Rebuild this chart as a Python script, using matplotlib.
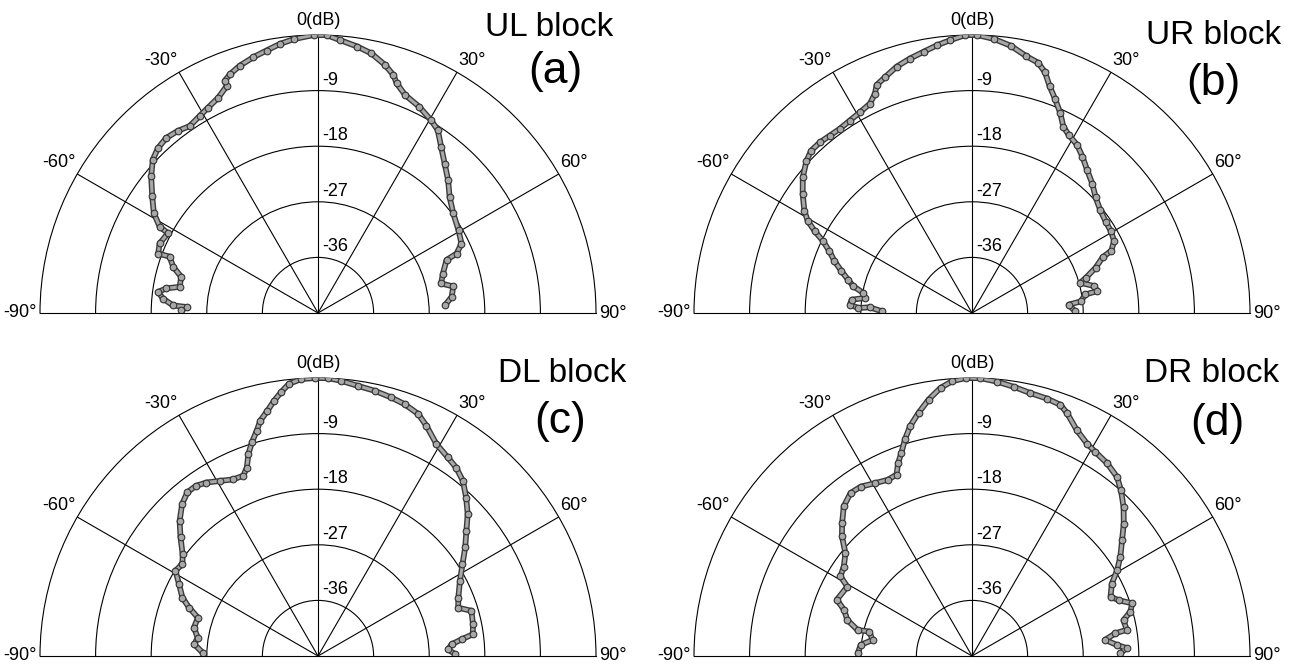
import numpy as np
import matplotlib.pyplot as plt

plt.rcParams['font.family'] = ['Liberation Sans', 'DejaVu Sans']

# ---- measured radiation patterns, angle (deg) vs level (dB), traced left -> right ----
ul_ang = [-88.9, -87.4, -87.0, -84.7, -82.5, -80.8, -79.3, -75.2, -72.3, -69.2,
          -69.6, -66.3, -62.0, -61.4, -58.7, -54.9, -50.7, -47.1, -44.1, -40.9,
          -37.6, -34.5, -31.0, -28.2, -24.9, -21.9, -21.9, -20.2, -17.5, -14.2,
          -11.1, -8.0, -5.1, -0.9,
          1.8, 4.7, 8.4, 11.6, 15.1, 17.6, 18.9, 21.8, 26.1, 30.3,
          33.2, 36.5, 40.3, 44.4, 48.6, 53.6, 59.5, 64.2, 66.8, 67.6,
          72.5, 76.5, 78.9, 83.1, 86.5]
ul_db = [-22.9, -23.7, -21.5, -19.8, -18.9, -20.1, -22.2, -22.1, -20.4, -19.3,
         -17.4, -17.0, -17.5, -15.8, -13.9, -12.2, -10.1, -8.5, -7.8, -7.5,
         -7.8, -8.3, -7.8, -7.3, -6.6, -5.4, -4.5, -3.8, -3.0, -2.3,
         -1.7, -1.0, -0.5, 0,
         0, -0.7, -1.4, -2.1, -3.4, -4.6, -5.7, -7.0, -7.8, -8.8,
         -9.6, -11.5, -13.3, -14.9, -16.6, -17.8, -18.6, -19.2, -20.6, -22.5,
         -23.8, -24.5, -22.7, -23.2, -24.4]

ur_ang = [-88.9, -86.8, -87.5, -86.1, -83.7, -82.0, -79.5, -77.3, -74.9, -72.2,
          -69.3, -66.5, -64.2, -62.5, -60.7, -58.6, -54.9, -51.3, -47.4, -44.7,
          -41.7, -38.7, -35.7, -32.4, -29.2, -26.0, -23.9, -22.7, -20.2, -17.0,
          -13.7, -10.5, -7.5, -4.6, -1.4,
          1.1, 4.6, 8.3, 11.9, 14.8, 16.9, 18.9, 21.3, 23.8, 26.1,
          28.5, 32.0, 35.2, 38.9, 42.9, 46.9, 51.4, 55.9, 59.4, 63.1,
          65.9, 66.9, 69.9, 72.8, 74.4, 77.5, 80.1, 80.7, 83.9, 85.1, 89.1]
ur_db = [-30.4, -28.4, -26.6, -25.2, -25.4, -27.5, -27.1, -25.3, -24.2, -22.8,
         -21.2, -19.8, -18.2, -16.3, -14.5, -13.2, -11.5, -9.9, -8.6, -8.0,
         -8.0, -8.2, -8.3, -8.1, -7.8, -7.3, -6.2, -5.0, -4.3, -3.3,
         -2.6, -2.0, -1.3, -0.7, 0,
         0, -0.5, -1.3, -2.5, -3.1, -4.3, -6.2, -7.9, -9.6, -11.4,
         -12.2, -12.9, -14.0, -15.3, -16.4, -17.6, -18.4, -18.8, -18.9, -19.2,
         -20.3, -22.0, -23.7, -25.7, -26.8, -24.8, -24.4, -26.4, -27.3, -29.3, -28.3]

dl_ang = [-88.3, -84.6, -81.3, -77.1, -72.3, -69.4, -66.7, -62.7, -59.1, -55.9,
          -53.1, -49.2, -45.7, -41.8, -38.6, -35.7, -32.8, -29.3, -25.6, -22.5,
          -20.7, -19.0, -17.2, -15.2, -13.8, -11.7, -9.8, -8.0, -6.1, -3.5, -0.7,
          2.1, 4.8, 8.4, 12.1, 15.8, 19.0, 22.5, 25.2, 29.2, 33.2,
          36.3, 39.6, 43.1, 46.5, 49.9, 53.6, 57.6, 62.1, 67.4, 71.0,
          73.6, 78.5, 82.0, 83.4, 85.0, 87.1, 89.1]
dl_db = [-26.3, -24.9, -25.3, -24.4, -24.6, -22.7, -21.1, -19.7, -18.1, -18.5,
         -17.6, -15.6, -13.7, -12.0, -11.1, -11.1, -11.6, -12.5, -13.3, -13.4,
         -12.4, -10.4, -8.8, -7.2, -5.8, -4.5, -3.1, -1.9, -0.7, -0.1, 0,
         0, -0.3, -0.8, -1.1, -1.5, -1.9, -2.6, -3.8, -5.7, -6.6,
         -7.2, -8.2, -9.9, -11.6, -13.6, -15.4, -17.3, -19.0, -20.4, -21.0,
         -19.1, -19.4, -19.7, -21.6, -23.3, -23.9, -22.9]

dr_ang = [-88.6, -84.3, -80.8, -76.6, -77.2, -73.9, -70.2, -67.4, -60.9, -58.8,
          -55.1, -50.9, -47.4, -44.3, -40.6, -36.7, -33.3, -29.4, -25.5, -22.6,
          -21.0, -19.2, -17.2, -15.1, -12.4, -9.6, -6.7, -4.1, -1.3,
          1.7, 5.2, 8.8, 12.5, 16.2, 19.4, 21.4, 24.9, 28.4, 31.1,
          35.0, 39.0, 41.9, 45.5, 48.9, 52.3, 56.2, 59.4, 62.6, 66.8,
          69.2, 71.8, 74.4, 76.7, 80.4, 81.0, 83.1, 85.6, 87.1, 88.9]
dr_db = [-26.5, -26.9, -28.7, -27.9, -26.0, -24.0, -23.0, -21.3, -21.9, -20.1,
         -19.7, -18.6, -16.4, -14.9, -13.1, -12.1, -12.2, -12.9, -13.4, -13.2,
         -11.6, -10.2, -8.3, -6.5, -4.7, -2.9, -1.3, -0.4, 0,
         0, -0.4, -0.9, -1.4, -1.6, -1.9, -2.8, -4.7, -5.9, -6.4,
         -6.9, -7.7, -8.9, -10.6, -12.4, -14.3, -16.1, -17.7, -19.5, -20.6,
         -19.6, -17.7, -18.4, -19.8, -19.6, -21.5, -23.3, -21.5, -19.9, -21.0]

block_names = ['UL block', 'UR block', 'DL block', 'DR block']
block_tags = ['(a)', '(b)', '(c)', '(d)']
ring_db = [-36, -27, -18, -9]
spoke_deg = [-60, -30, 0, 30, 60]

series = [(ul_ang, ul_db), (ur_ang, ur_db), (dl_ang, dl_db), (dr_ang, dr_db)]

W, H = 1290, 664
R = 278
centers = [(318, 313), (972, 313), (318, 656), (972, 656)]
name_pos = [(613, 27), (1281, 35), (626, 374), (1279, 374)]
tag_pos = [(555, 72), (1213, 84), (560, 421), (1217, 424)]

fig = plt.figure(figsize=(W / 100, H / 100), dpi=100)

for i in range(4):
    cx, cy = centers[i]
    # half-disc wedge sits in the middle of a square box
    ax = fig.add_axes([(cx - R) / W, (H - cy - R / 2) / H, 2 * R / W, 2 * R / H],
                      projection='polar')
    ax.set_theta_zero_location('N')
    ax.set_theta_direction(-1)
    ax.set_thetamin(-90)
    ax.set_thetamax(90)
    ax.set_rlim(-45, 0)
    ax.set_rgrids(ring_db, labels=[''] * len(ring_db))
    ax.set_thetagrids(spoke_deg, labels=[''] * len(spoke_deg))
    ax.tick_params(length=0)
    ax.grid(True, color='black', lw=0.8)
    for sp in ax.spines.values():
        sp.set_linewidth(0.8)
        sp.set_color('black')

    ang, db = series[i]
    th = np.deg2rad(ang)
    ax.plot(th, db, color='#3a3a3a', lw=4.2, solid_capstyle='round',
            solid_joinstyle='round', zorder=3)
    ax.plot(th, db, color='#a8a8a8', lw=2.2, solid_capstyle='round',
            solid_joinstyle='round', zorder=4)
    ax.plot(th, db, 'o', ms=4.8, mfc='#a8a8a8', mec='#333333', mew=0.8, zorder=5)

    # ring labels on the 0 deg spoke
    for r in ring_db:
        ax.annotate(str(r), xy=(0, r), xytext=(3, 1.5), textcoords='offset points',
                    ha='left', va='bottom', fontsize=13, annotation_clip=False)
    ax.annotate('0(dB)', xy=(0, 0), xytext=(0, 4), textcoords='offset points',
                ha='center', va='bottom', fontsize=13, annotation_clip=False)
    for d in [-60, -30]:
        ax.annotate('%d°' % d, xy=(np.deg2rad(d), 0), xytext=(-1, 2), textcoords='offset points',
                    ha='right', va='bottom', fontsize=13, annotation_clip=False)
    for d in [30, 60]:
        ax.annotate('%d°' % d, xy=(np.deg2rad(d), 0), xytext=(1, 2), textcoords='offset points',
                    ha='left', va='bottom', fontsize=13, annotation_clip=False)
    ax.annotate('-90°', xy=(np.deg2rad(-90), 0), xytext=(-2, 0), textcoords='offset points',
                ha='right', va='center', fontsize=13, annotation_clip=False)
    ax.annotate('90°', xy=(np.deg2rad(90), 0), xytext=(2, 0), textcoords='offset points',
                ha='left', va='center', fontsize=13, annotation_clip=False)

    nx, ny = name_pos[i]
    fig.text(nx / W, 1 - ny / H, block_names[i], ha='right', va='center', fontsize=24)
    tx, ty = tag_pos[i]
    fig.text(tx / W, 1 - ty / H, block_tags[i], ha='center', va='center', fontsize=32)

fig.savefig('out.png', dpi=100)
